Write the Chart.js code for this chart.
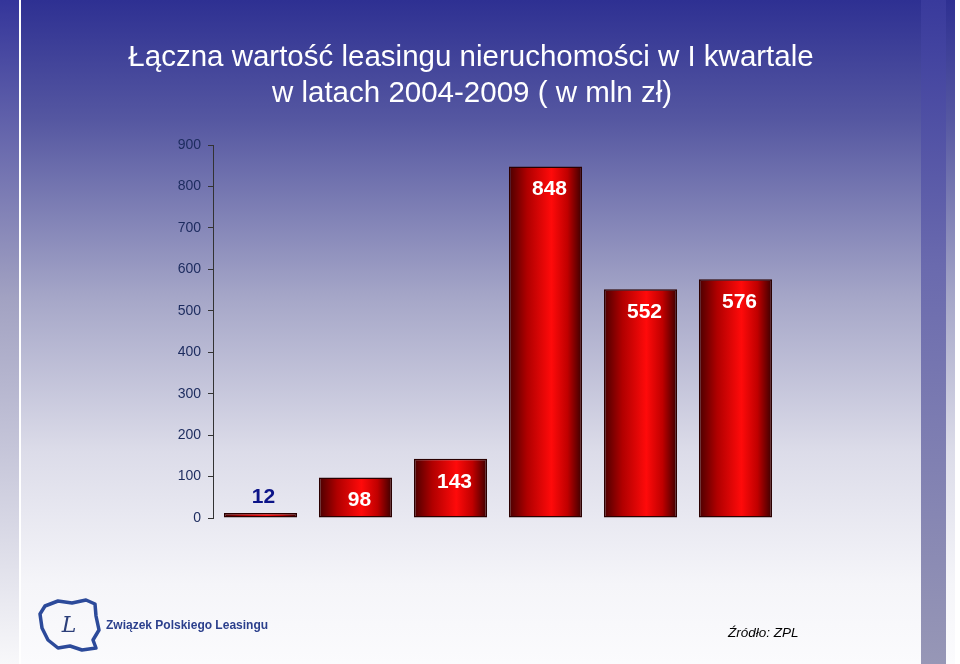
<!DOCTYPE html>
<html>
<head>
<meta charset="utf-8">
<script src="https://cdn.jsdelivr.net/npm/chart.js@4"></script>
<style>
  html, body { margin: 0; padding: 0; background: #fff; }
  #wrap { width: 960px; height: 664px; position: relative; }
</style>
</head>
<body>
<div id="wrap"><canvas id="wykres" width="960" height="664"></canvas></div>
<script>
// dane
const lata = ['2004', '2005', '2006', '2007', '2008', '2009'];
const wartosci = [12, 98, 143, 848, 552, 576];
const tytul = ['Łączna wartość leasingu nieruchomości w I kwartale', 'w latach 2004-2009 ( w mln zł)'];
const osY = { min: 0, max: 900, krok: 100 };
const zrodlo = 'Źródło: ZPL';
const logoTekst = 'Związek Polskiego Leasingu';

const FONT = '"Liberation Sans", Arial, sans-serif';
const SZER_SLUPKA = 0.77;

// tlo slajdu: gradient niebieski -> bialy, pasek z prawej, linia z lewej
const tloPlugin = {
    id: 'tlo',
    beforeDraw(chart) {
        const c = chart.ctx;
        const h = chart.height;
        c.save();
        c.fillStyle = '#ffffff';
        c.fillRect(0, 0, chart.width, h);
        let g = c.createLinearGradient(0, 0, 0, h);
        g.addColorStop(0, '#2e3092');
        g.addColorStop(0.18, '#5557a1');
        g.addColorStop(0.45, '#a6a7c8');
        g.addColorStop(0.68, '#dcdce9');
        g.addColorStop(0.88, '#f5f5f9');
        g.addColorStop(1, '#fbfbfd');
        c.fillStyle = g;
        c.fillRect(0, 0, 955, h);
        // lewy pasek
        let g2 = c.createLinearGradient(0, 0, 0, h);
        g2.addColorStop(0, '#34359a');
        g2.addColorStop(0.45, '#a2a2c2');
        g2.addColorStop(1, '#f8f8fa');
        c.fillStyle = g2;
        c.fillRect(0, 0, 19, h);
        c.fillStyle = '#ffffff';
        c.fillRect(19, 0, 2, h);
        // prawy pasek
        let g3 = c.createLinearGradient(0, 0, 0, h);
        g3.addColorStop(0, '#393a9c');
        g3.addColorStop(0.4, '#6a6aae');
        g3.addColorStop(1, '#9797b6');
        c.fillStyle = g3;
        c.fillRect(921, 0, 25, h);
        c.restore();
    }
};

// tytul, logo, zrodlo
const napisyPlugin = {
    id: 'napisy',
    afterDraw(chart) {
        const c = chart.ctx;
        c.save();
        c.fillStyle = '#ffffff';
        c.textAlign = 'center';
        c.textBaseline = 'alphabetic';
        c.font = '29.5px ' + FONT;
        c.fillText(tytul[0], 471, 66);
        c.fillText(tytul[1], 472, 102);

        // zarys logo (Polska)
        c.strokeStyle = '#2c4a9a';
        c.lineWidth = 3.5;
        c.lineJoin = 'round';
        c.beginPath();
        const pts = [[45,606],[58,601],[72,603],[86,600],[95,604],[96,616],[99,630],[93,640],[96,648],[82,650],[70,646],[58,648],[48,640],[42,628],[40,614]];
        pts.forEach((p, i) => i ? c.lineTo(p[0], p[1]) : c.moveTo(p[0], p[1]));
        c.closePath();
        c.stroke();
        c.fillStyle = '#2c3f7a';
        c.font = 'italic 22px "DejaVu Serif", serif';
        c.textAlign = 'center';
        c.fillText('L', 69, 632);
        c.textAlign = 'left';
        c.fillStyle = '#2b3f8c';
        c.font = 'bold 12px ' + FONT;
        c.fillText(logoTekst, 106, 629);

        c.fillStyle = '#000000';
        c.font = 'italic 13.5px ' + FONT;
        c.fillText(zrodlo, 728, 637);
        c.restore();
    }
};

// etykiety wartosci na slupkach
const etykietyPlugin = {
    id: 'etykiety',
    afterDatasetsDraw(chart) {
        const c = chart.ctx;
        const meta = chart.getDatasetMeta(0);
        c.save();
        c.textAlign = 'center';
        c.textBaseline = 'middle';
        c.font = 'bold 21px ' + FONT;
        meta.data.forEach((bar, i) => {
            const v = wartosci[i];
            if (v < 50) {
                c.fillStyle = '#0c1488';
                c.fillText(String(v), bar.x + 3, bar.y - 16);
            } else {
                c.fillStyle = '#ffffff';
                c.fillText(String(v), bar.x + 4, bar.y + 23);
            }
        });
        c.restore();
    }
};

function kolorSlupka(ctx) {
    const chart = ctx.chart;
    const xs = chart.scales.x;
    if (!xs || !chart.chartArea) return '#e00000';
    const srodek = xs.getPixelForValue(ctx.dataIndex);
    const pol = (xs.width / lata.length) * SZER_SLUPKA / 2;
    const g = chart.ctx.createLinearGradient(srodek - pol, 0, srodek + pol, 0);
    g.addColorStop(0, '#4a0000');
    g.addColorStop(0.25, '#b00000');
    g.addColorStop(0.58, '#ff0a0a');
    g.addColorStop(0.8, '#c00000');
    g.addColorStop(1, '#3a0000');
    return g;
}

const ctx = document.getElementById('wykres').getContext('2d');
new Chart(ctx, {
    type: 'bar',
    data: {
        labels: lata,
        datasets: [{
            data: wartosci,
            backgroundColor: kolorSlupka,
            borderColor: '#2a0000',
            borderWidth: 1.5,
            borderSkipped: false,
            categoryPercentage: 1,
            barPercentage: SZER_SLUPKA
        }]
    },
    options: {
        responsive: false,
        animation: false,
        layout: { padding: { left: 153, right: 177, top: 145, bottom: 146 } },
        plugins: {
            legend: { display: false },
            tooltip: { enabled: false },
            title: { display: false }
        },
        scales: {
            x: { display: false },
            y: {
                min: osY.min,
                max: osY.max,
                afterFit(scale) { scale.width = 60; },
                ticks: {
                    stepSize: osY.krok,
                    color: '#1c2b5e',
                    font: { family: FONT, size: 14 },
                    padding: 7
                },
                grid: {
                    drawOnChartArea: false,
                    drawTicks: true,
                    tickLength: 5,
                    color: '#333333'
                },
                border: { display: true, color: '#333333', width: 1 }
            }
        }
    },
    plugins: [tloPlugin, napisyPlugin, etykietyPlugin]
});
</script>
</body>
</html>
